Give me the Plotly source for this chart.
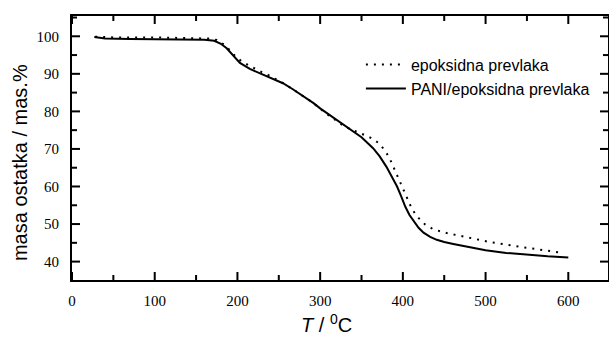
import plotly.graph_objects as go

T_pani = [27, 40, 70, 100, 130, 160, 172, 180, 187, 195, 203, 215, 227, 240, 255, 267, 280, 292, 300, 315, 328, 340, 350, 364, 372, 380, 387, 393, 398, 403, 408, 413, 419, 425, 433, 441, 450, 461, 481, 500, 525, 550, 575, 600]
y_pani = [99.8, 99.4, 99.3, 99.3, 99.2, 99.1, 98.8, 98.0, 96.8, 94.8, 92.9, 91.3, 90.2, 89.0, 87.5, 85.9, 84.1, 82.2, 80.8, 78.5, 76.4, 74.7, 73.1, 70.2, 68.0, 65.3, 62.6, 60.0, 57.4, 54.6, 52.4, 50.7, 49.0, 47.7, 46.6, 45.8, 45.2, 44.7, 43.8, 43.0, 42.3, 41.8, 41.4, 41.1]

T_epo = [28, 50, 100, 150, 165, 175, 185, 192, 199.5, 209, 219, 229, 239, 249, 258.5, 267, 280, 292, 305, 318, 330, 340, 350, 360, 370, 378, 384, 390.5, 396.5, 400.5, 404.5, 410.6, 416.7, 426.8, 436.8, 453, 473, 505, 546, 575, 594]
y_epo = [99.9, 99.7, 99.7, 99.6, 99.4, 99.0, 97.6, 96.0, 94.2, 92.8, 91.6, 90.5, 89.5, 88.3, 87.1, 85.9, 84.1, 82.2, 79.8, 77.8, 75.9, 75.0, 74.1, 73.1, 71.7, 69.7, 67.5, 64.2, 61.3, 59.2, 56.9, 54.2, 52.1, 49.9, 48.6, 47.6, 46.7, 45.2, 43.8, 43.0, 42.3]

name_epo = "epoksidna prevlaka"
name_pani = "PANI/epoksidna prevlaka"
x_title = "<i>T</i> / <sup>0</sup>C"
y_title = "masa ostatka / mas.%"

x_major = [0, 100, 200, 300, 400, 500, 600]
x_minor = [50, 150, 250, 350, 450, 550]
y_major = [40, 50, 60, 70, 80, 90, 100]
y_minor = [45, 55, 65, 75, 85, 95, 105]

X_RANGE = [0, 648]
Y_RANGE = [35.1, 105.4]
PLOT_W, PLOT_H = 536, 264

fig = go.Figure()
fig.add_trace(go.Scatter(x=T_epo, y=y_epo, mode="lines", name=name_epo,
                         line=dict(color="black", width=2, dash="2px,6px")))
fig.add_trace(go.Scatter(x=T_pani, y=y_pani, mode="lines", name=name_pani,
                         line=dict(color="black", width=2)))

# inside tick marks on all four sides, built from the tick arrays and axis ranges
xu = (X_RANGE[1] - X_RANGE[0]) / PLOT_W   # data units per pixel
yu = (Y_RANGE[1] - Y_RANGE[0]) / PLOT_H
tx, ty = [], []
for vals, L in ((x_major, 8), (x_minor, 5)):
    for v in vals:
        tx += [v, v, None, v, v, None]
        ty += [Y_RANGE[0], Y_RANGE[0] + L * yu, None, Y_RANGE[1], Y_RANGE[1] - L * yu, None]
for vals, L in ((y_major, 8), (y_minor, 5)):
    for v in vals:
        tx += [X_RANGE[0], X_RANGE[0] + L * xu, None, X_RANGE[1], X_RANGE[1] - L * xu, None]
        ty += [v, v, None, v, v, None]
fig.add_trace(go.Scatter(x=tx, y=ty, mode="lines", showlegend=False, hoverinfo="skip",
                         line=dict(color="black", width=2), connectgaps=False))

fig.update_xaxes(range=X_RANGE, tickvals=x_major,
                 showline=True, linecolor="black", linewidth=2, mirror=True,
                 ticks="", ticklabelstandoff=6,
                 showgrid=False, zeroline=False, automargin=False,
                 tickfont=dict(family="Liberation Serif", size=15, color="black"))
fig.update_yaxes(range=Y_RANGE, tickvals=y_major,
                 showline=True, linecolor="black", linewidth=2, mirror=True,
                 ticks="", ticklabelstandoff=8,
                 showgrid=False, zeroline=False, automargin=False,
                 tickfont=dict(family="Liberation Serif", size=15, color="black"))

fig.add_annotation(text=x_title, xref="paper", yref="paper", x=0.475, y=-0.165,
                   xanchor="center", yanchor="middle", showarrow=False,
                   font=dict(family="Liberation Sans", size=20, color="black"))
fig.add_annotation(text=y_title, xref="paper", yref="paper", x=-0.097, y=0.443,
                   xanchor="center", yanchor="middle", showarrow=False, textangle=-90,
                   font=dict(family="Liberation Sans", size=20, color="black"))

fig.update_layout(width=609, height=338, margin=dict(l=72, r=1, t=16, b=58),
                  template="simple_white",
                  plot_bgcolor="white", paper_bgcolor="white",
                  legend=dict(x=0.539, y=0.88, xanchor="left", yanchor="top",
                              bgcolor="rgba(0,0,0,0)", borderwidth=0,
                              font=dict(family="Liberation Sans", size=16, color="black"),
                              tracegroupgap=0, itemwidth=40))

fig.write_html("out.html", config={"displayModeBar": False},
               post_script="document.body.style.margin='0';document.body.style.overflow='hidden';")
